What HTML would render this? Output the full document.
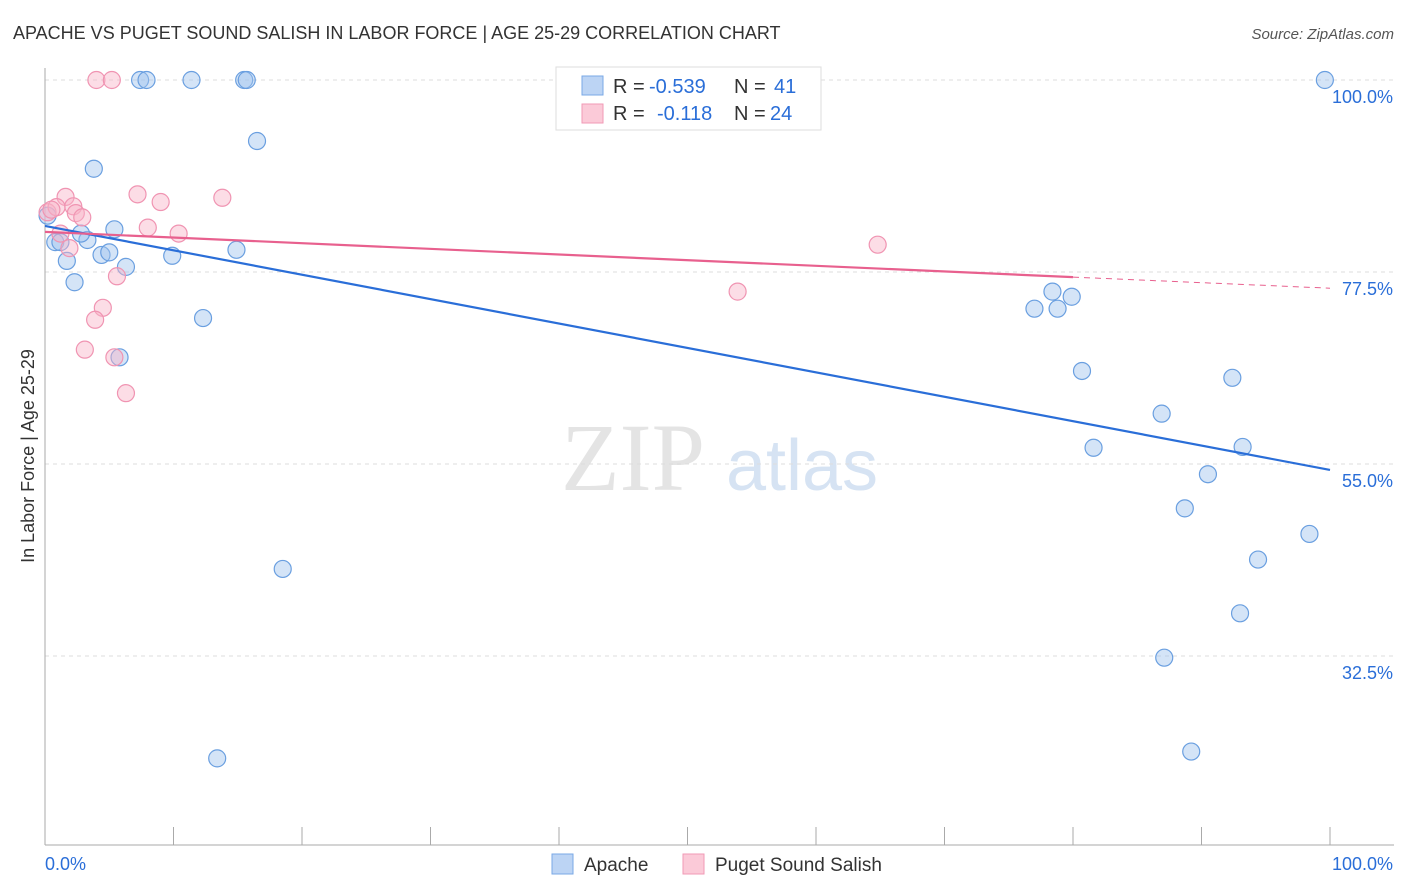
<!DOCTYPE html>
<html><head><meta charset="utf-8"><style>
body{margin:0;background:#fff;font-family:"Liberation Sans",sans-serif;}
svg{display:block}
</style></head><body>
<svg id="c" width="1406" height="892" xmlns="http://www.w3.org/2000/svg">
<text x="13" y="39" font-size="18" fill="#333">APACHE VS PUGET SOUND SALISH IN LABOR FORCE | AGE 25-29 CORRELATION CHART</text>
<text x="1394" y="39" font-size="15" fill="#555" font-style="italic" text-anchor="end">Source: ZipAtlas.com</text>
<g>
<text x="633" y="490" font-size="96" font-family="Liberation Serif,serif" fill="#e4e4e4" text-anchor="middle">ZIP</text>
<text x="802" y="490" font-size="72" fill="#d6e3f3" text-anchor="middle">atlas</text>
</g>
<text transform="translate(34,456) rotate(-90)" font-size="18" fill="#333" text-anchor="middle">In Labor Force | Age 25-29</text>
<g id="grid"></g><g id="pts"></g><g id="lines"></g>
<g font-size="20">
<rect x="556" y="67" width="265" height="63" fill="#fff" stroke="#ddd"/>
<rect x="582" y="76" width="21" height="19" fill="#bcd4f4" stroke="#7aa8e6"/>
<rect x="582" y="104" width="21" height="19" fill="#fbcad8" stroke="#f09ab6"/>
<text x="613" y="93" fill="#333">R =</text><text x="649" y="93" fill="#2a6ed8">-0.539</text>
<text x="734" y="93" fill="#333">N =</text><text x="774" y="93" fill="#2a6ed8">41</text>
<text x="613" y="120" fill="#333">R =</text><text x="657" y="120" fill="#2a6ed8">-0.118</text>
<text x="734" y="120" fill="#333">N =</text><text x="770" y="120" fill="#2a6ed8">24</text>
</g>
<g>
<rect x="552" y="854" width="21" height="20" fill="#bcd4f4" stroke="#7aa8e6"/>
<text x="584" y="871" font-size="19" fill="#333">Apache</text>
<rect x="683" y="854" width="21" height="20" fill="#fbcad8" stroke="#f09ab6"/>
<text x="715" y="871" font-size="19" fill="#333">Puget Sound Salish</text>
</g>
</svg>
<script>
const yTicks=[100,77.5,55,32.5];
const yTickLabels=["100.0%","77.5%","55.0%","32.5%"];
const xTickLabels=["0.0%","100.0%"];
const apacheX=[7.4,7.9,11.4,15.5,15.7,99.6,16.5,3.8,0.8,1.2,3.3,5.4,2.8,1.7,4.4,5.0,6.3,9.9,14.9,2.3,12.3,5.8,18.5,13.4,77.0,78.4,78.8,79.9,80.7,86.9,92.4,81.6,93.2,90.5,88.7,98.4,94.4,93.0,87.1,89.2,0.2];
const apacheY=[100,100,100,100,100,100,92.85,89.6,81.0,81.0,81.25,82.5,82.0,78.8,79.5,79.8,78.1,79.4,80.1,76.3,72.1,67.5,42.7,20.5,73.2,75.2,73.2,74.6,65.9,60.9,65.1,56.9,57.0,53.8,49.8,46.8,43.8,37.5,32.3,21.3,84.1];
const salishX=[4.0,5.2,1.6,7.2,9.0,13.8,0.2,0.9,2.2,2.4,2.9,1.2,1.9,8.0,10.4,5.6,4.5,3.9,3.1,5.4,6.3,53.9,64.8,0.5];
const salishY=[100,100,86.3,86.6,85.7,86.2,84.5,85.1,85.2,84.4,83.9,82.0,80.3,82.7,82.0,77.0,73.3,71.9,68.4,67.5,63.3,75.2,80.7,84.8];
const apacheTrend=[[0,82.9],[100,54.3]];
const salishTrend=[[0,82.2],[80,76.9],[100,75.6]];
const X=v=>45+v*12.85, Y=v=>80+(100-v)*8.533;
const NS="http://www.w3.org/2000/svg";
function mk(t,a,p){const e=document.createElementNS(NS,t);for(const k in a)e.setAttribute(k,a[k]);p.appendChild(e);return e;}
const g=document.getElementById('grid');
yTicks.forEach((t,i)=>{
 const l=mk('line',{x1:45,x2:1394,y1:Y(t),y2:Y(t),stroke:'#ddd','stroke-dasharray':'4,4'},g);
 
 
 const tx=mk('text',{x:1393,y:Y(t)+23,'font-size':18,fill:'#2a6ed8','text-anchor':'end'},g);
 tx.textContent=yTickLabels[i];
 
 
});
const ax=mk('line',{x1:45,x2:45,y1:68,y2:845,stroke:'#aaa'},g);


const bx=mk('line',{x1:45,x2:1394,y1:845,y2:845,stroke:'#aaa'},g);


for(let i=0;i<=10;i++){const t=mk('line',{x1:X(i*10),x2:X(i*10),y1:827,y2:845,stroke:'#aaa'},g);
 
 }
[[0,'start',45],[1,'end',1393]].forEach(([i,a,x])=>{const t=mk('text',{x:x,y:870,'font-size':18,fill:'#2a6ed8','text-anchor':a},g);t.textContent=xTickLabels[i];
 
 });
const p=document.getElementById('pts');
apacheX.forEach((v,i)=>{const c=mk('circle',{cx:X(v),cy:Y(apacheY[i]),r:8.5,fill:'rgba(160,195,238,0.45)',stroke:'#6a9fe0','stroke-width':1.2},p);
 
 });
salishX.forEach((v,i)=>{const c=mk('circle',{cx:X(v),cy:Y(salishY[i]),r:8.5,fill:'rgba(248,180,200,0.45)',stroke:'#f094b2','stroke-width':1.2},p);
 
 });
const L=document.getElementById('lines');
const a=mk('line',{x1:X(apacheTrend[0][0]),y1:Y(apacheTrend[0][1]),x2:X(apacheTrend[1][0]),y2:Y(apacheTrend[1][1]),stroke:'#2a6ed8','stroke-width':2.2},L);


const s=mk('line',{x1:X(salishTrend[0][0]),y1:Y(salishTrend[0][1]),x2:X(salishTrend[1][0]),y2:Y(salishTrend[1][1]),stroke:'#e8608e','stroke-width':2.2},L);


const sd=mk('line',{x1:X(salishTrend[1][0]),y1:Y(salishTrend[1][1]),x2:X(salishTrend[2][0]),y2:Y(salishTrend[2][1]),stroke:'#e8608e','stroke-width':1,'stroke-dasharray':'6,5'},L);


</script>
</body></html>
